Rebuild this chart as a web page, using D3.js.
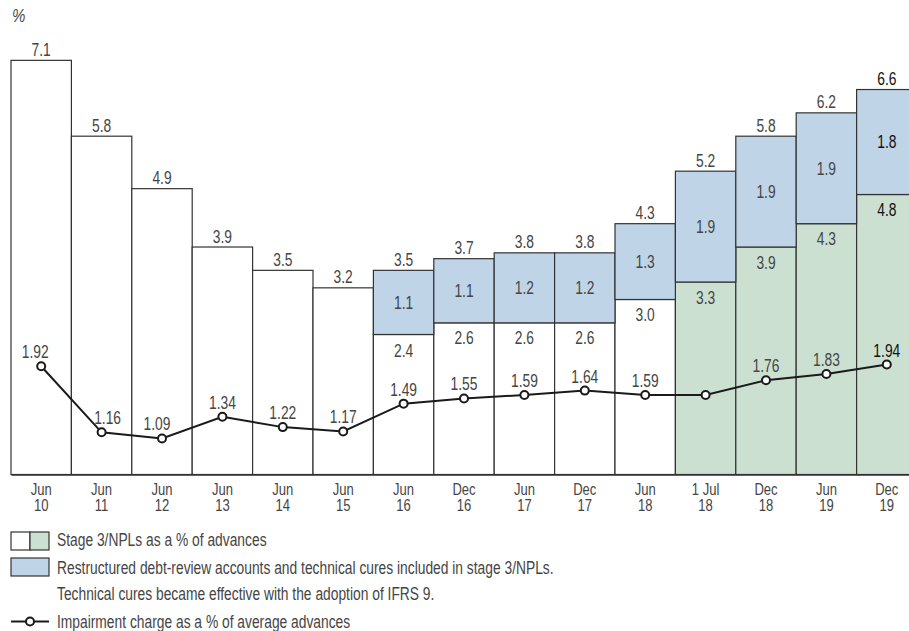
<!DOCTYPE html>
<html>
<head>
<meta charset="utf-8">
<script src="https://cdn.jsdelivr.net/npm/d3@7"></script>
<style>
  body { margin: 0; background: #fff; }
  svg text { font-family: "Liberation Sans", Arial, sans-serif; fill: #454545; font-size: 17.5px; }
</style>
</head>
<body>
<div id="chart"></div>
<script>
// periods (x axis)
const periods = ["Jun 10", "Jun 11", "Jun 12", "Jun 13", "Jun 14", "Jun 15", "Jun 16", "Dec 16",
  "Jun 17", "Dec 17", "Jun 18", "1 Jul 18", "Dec 18", "Jun 19", "Dec 19"];
// stage 3 / NPLs as % of advances (bottom segment)
const nplValues = [7.1, 5.8, 4.9, 3.9, 3.5, 3.2, 2.4, 2.6, 2.6, 2.6, 3.0, 3.3, 3.9, 4.3, 4.8];
// restructured debt-review + technical cures (top segment)
const restructuredValues = [null, null, null, null, null, null, 1.1, 1.1, 1.2, 1.2, 1.3, 1.9, 1.9, 1.9, 1.8];
// totals printed above the bars
const totalValues = [7.1, 5.8, 4.9, 3.9, 3.5, 3.2, 3.5, 3.7, 3.8, 3.8, 4.3, 5.2, 5.8, 6.2, 6.6];
// impairment charge as % of average advances
const impairmentValues = [1.92, 1.16, 1.09, 1.34, 1.22, 1.17, 1.49, 1.55, 1.59, 1.64, 1.59, 1.59, 1.76, 1.83, 1.94];
const ifrs9Start = "1 Jul 18";
const unlabelledPoints = ["1 Jul 18"];
const latest = "Dec 19";

const width = 909, height = 631;
const baseY = 474.5;
const SX = 0.79; // condensed look

// small nudges so line labels clear the line
const lineLabelNudge = { "Jun 10": -6, "Jun 11": 6, "Jun 12": -5 };

const place = (px, py) => "translate(" + px + "," + py + ") scale(" + SX + ",1)";

const svg = d3.select("#chart").append("svg")
  .attr("width", width)
  .attr("height", height);

const x = d3.scaleBand()
  .domain(periods)
  .range([11, 917])
  .padding(0);

const y = d3.scaleLinear()
  .domain([0, 7.1])
  .range([baseY, baseY - 7.1 * 58.33]);

// impairment line uses its own scale
const y2 = d3.scaleLinear()
  .domain([0, 2])
  .range([533.2, 359.3]);

const cx = p => x(p) + x.bandwidth() / 2;
const ifrsIdx = periods.indexOf(ifrs9Start);
const stroke = "#333";

const rows = periods.map((p, i) => ({
  p, i, npl: nplValues[i], restr: restructuredValues[i], total: totalValues[i], imp: impairmentValues[i]
}));

// bottom segments
svg.selectAll(".npl")
  .data(rows)
  .enter()
  .append("rect")
  .attr("class", "npl")
  .attr("x", d => x(d.p))
  .attr("y", d => y(d.npl))
  .attr("width", x.bandwidth())
  .attr("height", d => y(0) - y(d.npl))
  .attr("fill", d => d.i >= ifrsIdx ? "#cce0d1" : "#fff")
  .attr("stroke", stroke)
  .attr("stroke-width", 1.2);

// top segments
const stacked = rows.filter(d => d.restr != null);
svg.selectAll(".restr")
  .data(stacked)
  .enter()
  .append("rect")
  .attr("class", "restr")
  .attr("x", d => x(d.p))
  .attr("y", d => y(d.npl + d.restr))
  .attr("width", x.bandwidth())
  .attr("height", d => y(d.npl) - y(d.npl + d.restr))
  .attr("fill", "#bfd4e7")
  .attr("stroke", stroke)
  .attr("stroke-width", 1.2);

const labelFill = d => d.p === latest ? "#111" : "#454545";

// totals
svg.selectAll(".total")
  .data(rows)
  .enter()
  .append("text")
  .attr("transform", d => place(cx(d.p), y(d.total) - 4.5))
  .attr("text-anchor", "middle")
  .style("fill", labelFill)
  .text(d => d.total.toFixed(1));

// inner labels
svg.selectAll(".restrLabel")
  .data(stacked)
  .enter()
  .append("text")
  .attr("transform", d => place(cx(d.p), (y(d.npl) + y(d.npl + d.restr)) / 2 + 6.3))
  .attr("text-anchor", "middle")
  .style("fill", labelFill)
  .text(d => d.restr.toFixed(1));

svg.selectAll(".nplLabel")
  .data(stacked)
  .enter()
  .append("text")
  .attr("transform", d => place(cx(d.p), y(d.npl) + (d.p === "Jun 16" ? 22.5 : 21.5)))
  .attr("text-anchor", "middle")
  .style("fill", labelFill)
  .text(d => d.npl.toFixed(1));

// x axis
const xAxis = svg.append("g")
  .attr("class", "axis axis--x")
  .attr("transform", "translate(0," + baseY + ")")
  .call(d3.axisBottom(x).tickSize(0).tickSizeOuter(0).tickFormat(""));
xAxis.select(".domain").attr("stroke", stroke).attr("stroke-width", 1.3);

xAxis.selectAll(".tick").each(function (p) {
  const parts = p.split(" ");
  const yr = parts.pop();
  const t = d3.select(this).append("text")
    .attr("transform", "scale(" + SX + ",1)")
    .attr("text-anchor", "middle")
    .style("font-size", "16.5px");
  t.append("tspan").attr("x", 0).attr("y", 20.5).text(parts.join(" "));
  t.append("tspan").attr("x", 0).attr("y", 37).text(yr);
});

// impairment line
const line = d3.line()
  .x(d => cx(d.p))
  .y(d => y2(d.imp));

svg.append("path")
  .datum(rows)
  .attr("d", line)
  .attr("fill", "none")
  .attr("stroke", "#1a1a1a")
  .attr("stroke-width", 2);

svg.selectAll(".pt")
  .data(rows)
  .enter()
  .append("circle")
  .attr("cx", d => cx(d.p))
  .attr("cy", d => y2(d.imp))
  .attr("r", 4)
  .attr("fill", "#fff")
  .attr("stroke", "#1a1a1a")
  .attr("stroke-width", 2);

svg.selectAll(".impLabel")
  .data(rows.filter(d => !unlabelledPoints.includes(d.p)))
  .enter()
  .append("text")
  .attr("transform", d => place(cx(d.p) + (lineLabelNudge[d.p] || 0), y2(d.imp) - 8))
  .attr("text-anchor", "middle")
  .style("fill", labelFill)
  .text(d => d.imp.toFixed(2));

// unit
svg.append("text")
  .attr("transform", place(12, 22))
  .style("font-style", "italic")
  .style("font-size", "19px")
  .text("%");

// legend
const lg = svg.append("g");
lg.append("rect").attr("x", 11).attr("y", 532).attr("width", 19).attr("height", 18)
  .attr("fill", "#fff").attr("stroke", stroke).attr("stroke-width", 1.2);
lg.append("rect").attr("x", 30).attr("y", 532).attr("width", 19).attr("height", 18)
  .attr("fill", "#cce0d1").attr("stroke", stroke).attr("stroke-width", 1.2);
lg.append("rect").attr("x", 11).attr("y", 558).attr("width", 38).attr("height", 18)
  .attr("fill", "#bfd4e7").attr("stroke", stroke).attr("stroke-width", 1.2);
lg.append("line").attr("x1", 11).attr("x2", 49).attr("y1", 621.5).attr("y2", 621.5)
  .attr("stroke", "#1a1a1a").attr("stroke-width", 2);
lg.append("circle").attr("cx", 30).attr("cy", 621.5).attr("r", 4)
  .attr("fill", "#fff").attr("stroke", "#1a1a1a").attr("stroke-width", 2);

const legendText = [
  ["Stage 3/NPLs as a % of advances", 546.3],
  ["Restructured debt-review accounts and technical cures included in stage 3/NPLs.", 573.6],
  ["Technical cures became effective with the adoption of IFRS 9.", 600.3],
  ["Impairment charge as a % of average advances", 628]
];
lg.selectAll(".lt")
  .data(legendText)
  .enter()
  .append("text")
  .attr("transform", d => place(57, d[1]))
  .text(d => d[0]);
</script>
</body>
</html>
